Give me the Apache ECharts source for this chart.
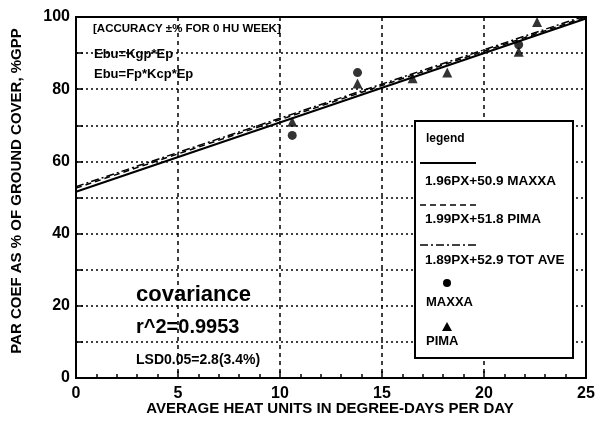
<!DOCTYPE html>
<html><head><meta charset="utf-8">
<script src="https://cdn.jsdelivr.net/npm/echarts@6/dist/echarts.min.js"></script>
<style>html,body{margin:0;padding:0;background:#fff}#c{width:611px;height:443px}</style>
</head><body><div id="c"></div>
<script>
// ---- data ----
var xTicks = [0, 5, 10, 15, 20, 25];
var yTicks = [0, 20, 40, 60, 80, 100];
var maxxaPoints = [[10.6, 67.2], [13.8, 84.6], [21.7, 92.3]];
var pimaPoints = [[10.6, 71.0], [13.8, 81.6], [16.5, 83.0], [18.2, 84.6], [21.7, 90.4], [22.6, 98.6]];
var fitMaxxa = [[0, 51.6], [25, 99.6]];
var fitPima = [[0, 52.6], [25, 100]];
var fitTotal = [[0, 53.0], [25, 100.4]];
var legendLabels = ['1.96PX+50.9 MAXXA', '1.99PX+51.8 PIMA', '1.89PX+52.9 TOT AVE', 'MAXXA', 'PIMA'];

var F = '"Liberation Sans", Arial, sans-serif';
var chart = echarts.init(document.getElementById('c'), null, {renderer: 'canvas'});
function txt(x, y, s, size, extra) {
  var st = {text: s, x: x, y: y, font: 'bold ' + size + 'px ' + F, fill: '#000', textVerticalAlign: 'middle'};
  if (extra) for (var k in extra) st[k] = extra[k];
  return {type: 'text', style: st, z: 10};
}
var yTitle = txt(0, 0, 'PAR COEF AS % OF GROUND COVER, %GPP', 15, {textAlign: 'center'});
yTitle.x = 17; yTitle.y = 191; yTitle.rotation = Math.PI / 2;
var option = {
  animation: false,
  backgroundColor: '#fff',
  grid: {left: 76, right: 25, top: 17, bottom: 65, show: true, borderColor: '#000', borderWidth: 2},
  xAxis: {
    type: 'value', min: 0, max: 25, interval: 5,
    axisLine: {lineStyle: {color: '#000', width: 2}},
    axisTick: {inside: true, length: 7, lineStyle: {color: '#000', width: 1.5}},
    minorTick: {show: true, splitNumber: 5, length: 4, lineStyle: {color: '#000', width: 1.5}},
    axisLabel: {color: '#000', fontFamily: F, fontWeight: 'bold', fontSize: 16, margin: 8},
    splitLine: {show: true, lineStyle: {color: '#000', width: 1.5, type: [4, 4]}}
  },
  yAxis: {
    type: 'value', min: 0, max: 100, interval: 10,
    axisLine: {lineStyle: {color: '#000', width: 2}},
    axisTick: {inside: true, length: 7, lineStyle: {color: '#000', width: 1.5}},
    axisLabel: {color: '#000', fontFamily: F, fontWeight: 'bold', fontSize: 16, margin: 6,
      formatter: function (v) { return yTicks.indexOf(v) >= 0 ? String(v) : ''; }},
    splitLine: {show: true, lineStyle: {color: '#000', width: 1.5, type: [2, 3]}}
  },
  series: [
    {type: 'line', data: fitMaxxa, symbol: 'none', lineStyle: {color: '#000', width: 2}},
    {type: 'line', data: fitPima, symbol: 'none', lineStyle: {color: '#000', width: 1.5, type: [6, 4]}},
    {type: 'line', data: fitTotal, symbol: 'none', lineStyle: {color: '#000', width: 1.5, type: [8, 3, 2, 3]}},
    {type: 'scatter', data: maxxaPoints, symbol: 'circle', symbolSize: 9, itemStyle: {color: '#000'}},
    {type: 'scatter', data: pimaPoints, symbol: 'triangle', symbolSize: 10, itemStyle: {color: '#000'}}
  ],
  graphic: [
    yTitle,
    txt(330, 409, 'AVERAGE HEAT UNITS IN DEGREE-DAYS PER DAY', 15, {textAlign: 'center'}),
    txt(93, 29, '[ACCURACY ±% FOR 0 HU WEEK]', 11.5),
    txt(94, 54, 'Ebu=Kgp*Ep', 13),
    txt(94, 74, 'Ebu=Fp*Kcp*Ep', 13),
    txt(136, 295, 'covariance', 22),
    txt(136, 327, 'r^2=0.9953', 20),
    txt(136, 360, 'LSD0.05=2.8(3.4%)', 14),
    {type: 'rect', shape: {x: 415, y: 121, width: 158, height: 237}, style: {fill: '#fff', stroke: '#000', lineWidth: 2}, z: 9},
    txt(426, 139, 'legend', 12),
    {type: 'line', shape: {x1: 420, y1: 163, x2: 476, y2: 163}, style: {stroke: '#000', lineWidth: 2}, z: 10},
    txt(425, 181, legendLabels[0], 13.5),
    {type: 'line', shape: {x1: 420, y1: 205, x2: 476, y2: 205}, style: {stroke: '#000', lineWidth: 1.5, lineDash: [6, 4]}, z: 10},
    txt(425, 219, legendLabels[1], 13.5),
    {type: 'line', shape: {x1: 420, y1: 245, x2: 476, y2: 245}, style: {stroke: '#000', lineWidth: 1.5, lineDash: [8, 3, 2, 3]}, z: 10},
    txt(425, 260, legendLabels[2], 13.5),
    {type: 'circle', shape: {cx: 447, cy: 283, r: 4}, style: {fill: '#000'}, z: 10},
    txt(426, 302, legendLabels[3], 13),
    {type: 'polygon', shape: {points: [[447, 322], [442, 331], [452, 331]]}, style: {fill: '#000'}, z: 10},
    txt(426, 341, legendLabels[4], 13)
  ]
};
chart.setOption(option);
</script>
</body></html>
